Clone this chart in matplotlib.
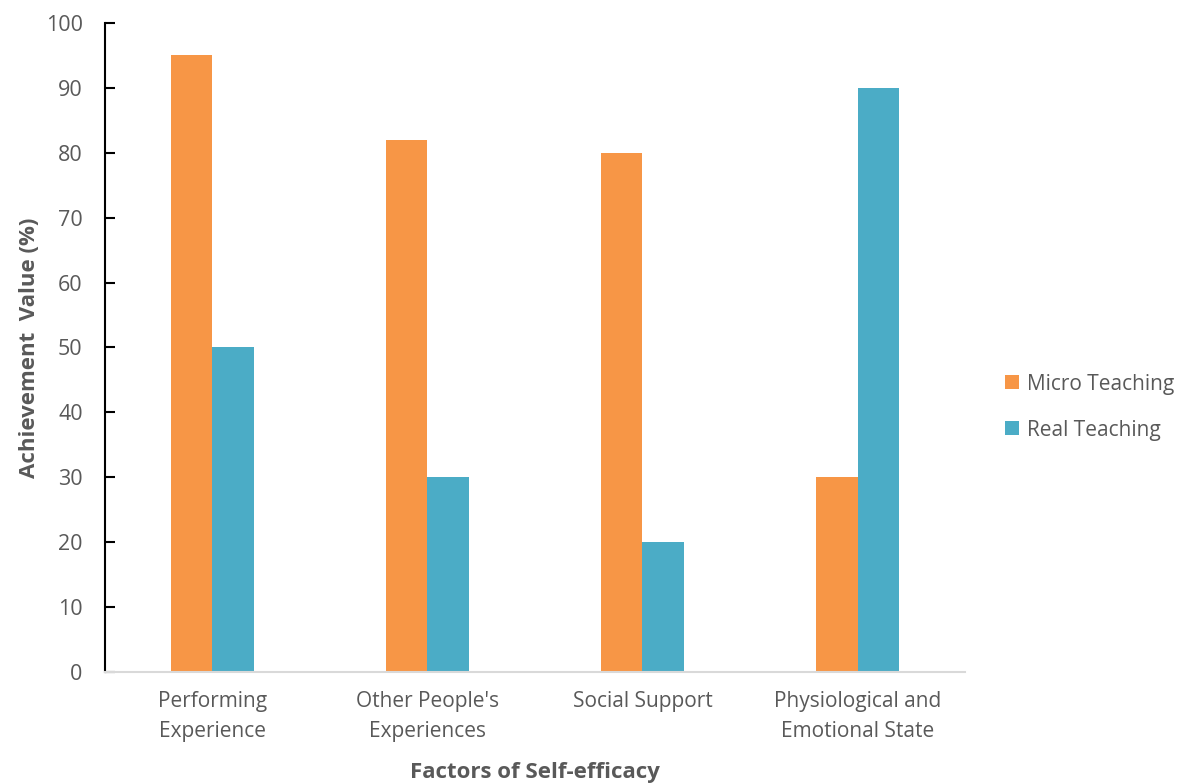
import matplotlib.pyplot as plt
import numpy as np

plt.rcParams['font.family'] = ['Open Sans', 'DejaVu Sans']

categories = ['Performing\nExperience', "Other People's\nExperiences",
              'Social Support', 'Physiological and\nEmotional State']
micro = [95, 82, 80, 30]
real = [50, 30, 20, 90]
series_names = ['Micro Teaching', 'Real Teaching']
yticks = [0, 10, 20, 30, 40, 50, 60, 70, 80, 90, 100]

gray = '#595959'
fig = plt.figure(figsize=(11.79, 7.83), dpi=100)
ax = fig.add_axes([0.089, 0.1418, 0.7295, 0.8288])

x = np.arange(len(categories))
w = 0.195
ax.bar(x - w / 2, micro, w, color='#F79646', label=series_names[0])
ax.bar(x + w / 2, real, w, color='#4BACC6', label=series_names[1])

ax.set_xlim(-0.5, len(categories) - 0.5)
ax.set_ylim(0, 100)
ax.set_yticks(yticks)
ax.set_xticks(x)
ax.set_xticklabels(categories, linespacing=1.55)
ax.tick_params(axis='y', colors='black', labelcolor=gray, labelsize=15.5,
               direction='in', length=7, width=1.5, pad=16)
ax.tick_params(axis='x', length=0, labelcolor=gray, labelsize=15, pad=14)
for s in ['top', 'right']:
    ax.spines[s].set_visible(False)
ax.spines['left'].set_color('black')
ax.spines['left'].set_linewidth(1.5)
ax.spines['bottom'].set_color('#D9D9D9')
ax.spines['bottom'].set_linewidth(1.5)

ax.set_ylabel('Achievement  Value (%)', fontsize=16, fontweight='bold',
              color=gray, labelpad=4)
ax.set_xlabel('Factors of Self-efficacy', fontsize=16, fontweight='bold',
              color=gray, labelpad=14)

leg = ax.legend(loc='center left', bbox_to_anchor=(1.025, 0.408), frameon=False,
                fontsize=15, handlelength=0.65, handleheight=0.65,
                handletextpad=0.4, labelspacing=1.2)
for t in leg.get_texts():
    t.set_color(gray)

fig.savefig('out.png', dpi=100)
